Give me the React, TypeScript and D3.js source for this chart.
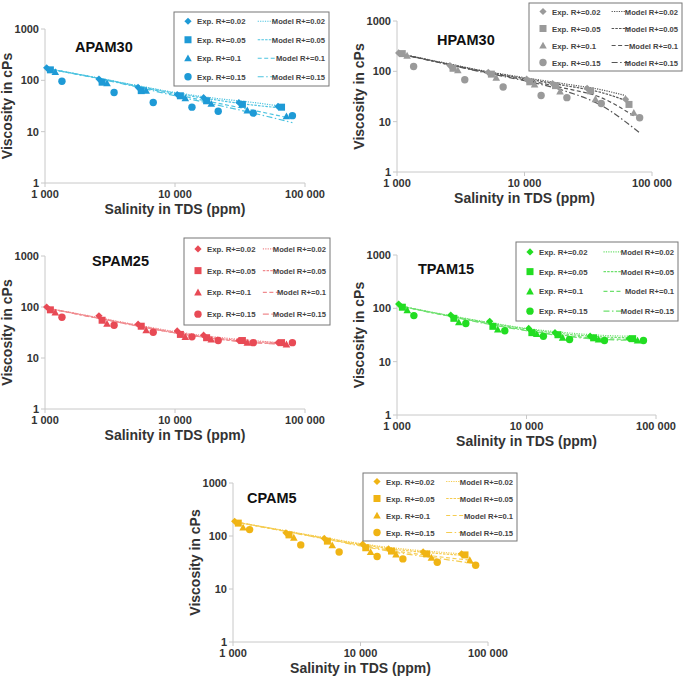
import React from "react";
import * as d3 from "d3";

// ---------- DATA ----------
const seriesKeys = ["0.02", "0.05", "0.1", "0.15"];
const xTickValues = [1000, 10000, 100000];
const xTickLabels = ["1 000", "10 000", "100 000"];
const yTickValues = [1, 10, 100, 1000];
const yTickLabels = ["1", "10", "100", "1000"];

// salinity (ppm) of experimental points per R+ series
const salExp02 = [1030, 2600, 5200, 10400, 16600, 31000, 62000];
const salExp05 = [1100, 2750, 5500, 11000, 17500, 33000, 66000];
const salExp10 = [1200, 3000, 6000, 12000, 19000, 36000, 72000];
const salExp15 = [1350, 3400, 6800, 13500, 21500, 40000, 80000];
// salinity of model curve nodes
const salMod02 = [1030, 2000, 5000, 10000, 20000, 40000, 62000];
const salMod05 = [1030, 2000, 5000, 10000, 20000, 40000, 66000];
const salMod10 = [1030, 2000, 5000, 10000, 20000, 40000, 72000];
const salMod15 = [1030, 2000, 5000, 10000, 20000, 40000, 80000];

// APAM30
const apamExp02 = [175, 106, 73, 53, 46, 37, 31];
const apamExp05 = [160, 92, 63, 50, 40, 34, 30];
const apamExp10 = [145, 88, 63, 45, 35, 26, 20];
const apamExp15 = [96, 58, 37, 30, 25, 23, 20.5];
const apamMod02 = [170, 125, 80, 58, 45, 37, 32];
const apamMod05 = [170, 125, 79, 56, 42, 33, 29];
const apamMod10 = [170, 124, 77, 53, 37, 26, 19];
const apamMod15 = [170, 123, 75, 50, 34, 23, 15];

// HPAM30
const hpamExp02 = [232, 130, 95, 70, 57, 46, 28];
const hpamExp05 = [225, 115, 88, 62, 52, 41, 22];
const hpamExp10 = [205, 105, 75, 55, 40, 28, 15];
const hpamExp15 = [125, 68, 49, 33, 30, 23, 12];
const hpamMod02 = [225, 160, 100, 75, 57, 43, 33];
const hpamMod05 = [225, 158, 98, 72, 53, 38, 25];
const hpamMod10 = [225, 156, 95, 68, 47, 30, 13];
const hpamMod15 = [225, 155, 93, 65, 42, 21, 6];

// SPAM25
const spamExp02 = [100, 67, 46, 34, 28, 22, 20];
const spamExp05 = [88, 55, 42, 29, 25, 22, 20];
const spamExp10 = [78, 47, 35, 26, 23, 20, 18.5];
const spamExp15 = [63, 44, 32, 26, 22, 20, 20];
const spamMod02 = [95, 70, 45, 33, 26, 22, 20];
const spamMod05 = [95, 69, 44, 32, 25, 21, 20];
const spamMod10 = [95, 68, 43, 31, 24, 20, 19];
const spamMod15 = [95, 68, 43, 31, 24, 20, 18.5];

// TPAM15
const tpamExp02 = [120, 75, 57, 42, 35, 30, 27];
const tpamExp05 = [105, 65, 46, 35, 32, 28, 27];
const tpamExp10 = [92, 55, 40, 33, 28, 26, 25];
const tpamExp15 = [73, 52, 38, 30, 26, 25, 25];
const tpamMod02 = [112, 82, 55, 42, 35, 31, 30];
const tpamMod05 = [112, 81, 54, 41, 33, 29, 28];
const tpamMod10 = [112, 80, 52, 39, 31, 27, 26];
const tpamMod15 = [112, 80, 51, 38, 30, 26, 25];

// CPAM5
const cpamExp02 = [190, 115, 90, 70, 57, 50, 46];
const cpamExp05 = [175, 105, 80, 60, 52, 46, 44];
const cpamExp10 = [145, 93, 67, 50, 45, 39, 35];
const cpamExp15 = [132, 68, 50, 41, 37, 32, 28];
const cpamMod02 = [185, 140, 95, 72, 58, 50, 46];
const cpamMod05 = [185, 139, 93, 70, 55, 47, 43];
const cpamMod10 = [185, 138, 91, 67, 51, 41, 35];
const cpamMod15 = [185, 137, 90, 65, 48, 38, 30];

const salExp = [salExp02, salExp05, salExp10, salExp15];
const salMod = [salMod02, salMod05, salMod10, salMod15];

const panels = [
  {
    name: "APAM30",
    exp: [apamExp02, apamExp05, apamExp10, apamExp15],
    mod: [apamMod02, apamMod05, apamMod10, apamMod15],
    color: "#1e9ad6",
    lineColor: "#4cc3e0",
    layout: { x0: 45, x1: 305, yTop: 29, yBot: 183, tx: 75, ty: 52, lg: [174, 12, 155, 74] },
  },
  {
    name: "HPAM30",
    exp: [hpamExp02, hpamExp05, hpamExp10, hpamExp15],
    mod: [hpamMod02, hpamMod05, hpamMod10, hpamMod15],
    color: "#9a9a9a",
    lineColor: "#555555",
    layout: { x0: 397, x1: 652, yTop: 21, yBot: 172, tx: 437, ty: 45, lg: [529, 3, 153, 68] },
  },
  {
    name: "SPAM25",
    exp: [spamExp02, spamExp05, spamExp10, spamExp15],
    mod: [spamMod02, spamMod05, spamMod10, spamMod15],
    color: "#e84a55",
    lineColor: "#f08a8e",
    layout: { x0: 45, x1: 305, yTop: 256, yBot: 409, tx: 92, ty: 266, lg: [184, 238, 146, 87] },
  },
  {
    name: "TPAM15",
    exp: [tpamExp02, tpamExp05, tpamExp10, tpamExp15],
    mod: [tpamMod02, tpamMod05, tpamMod10, tpamMod15],
    color: "#22dd22",
    lineColor: "#6ee06e",
    layout: { x0: 397, x1: 656, yTop: 255, yBot: 415, tx: 418, ty: 274, lg: [516, 242, 162, 79] },
  },
  {
    name: "CPAM5",
    exp: [cpamExp02, cpamExp05, cpamExp10, cpamExp15],
    mod: [cpamMod02, cpamMod05, cpamMod10, cpamMod15],
    color: "#f0b414",
    lineColor: "#f5cc50",
    layout: { x0: 233, x1: 488, yTop: 483, yBot: 642, tx: 247, ty: 503, lg: [363, 473, 154, 68] },
  },
];

const dashes = ["1.2,1.2", "2.5,1.2", "4,2.5", "6,2.5,1.5,2.5"];
const FONT = "'Liberation Sans', Arial, sans-serif";

function Marker({ kind, x, y, color }: { kind: number; x: number; y: number; color: string }) {
  if (kind === 0) {
    const s = 3.6;
    return <path d={`M${x},${y - s}L${x + s},${y}L${x},${y + s}L${x - s},${y}Z`} fill={color} />;
  }
  if (kind === 1) return <rect x={x - 3.5} y={y - 3.5} width={7} height={7} fill={color} />;
  if (kind === 2) {
    const s = 3.8;
    return <path d={`M${x},${y - s}L${x + s},${y + s * 0.8}L${x - s},${y + s * 0.8}Z`} fill={color} />;
  }
  return <circle cx={x} cy={y} r={3.7} fill={color} />;
}

function Panel({ p }: { p: (typeof panels)[number] }) {
  const L = p.layout;
  const x = d3.scaleLog().domain([1000, 100000]).range([L.x0, L.x1]);
  const y = d3.scaleLog().domain([1, 1000]).range([L.yBot, L.yTop]);
  const line = d3
    .line<[number, number]>()
    .x((d) => x(d[0]))
    .y((d) => y(d[1]))
    .curve(d3.curveMonotoneX);
  const [lx, ly, lw, lh] = L.lg;
  const axisColor = "#c8c8c8";
  return (
    <g>
      {/* axes */}
      <line x1={L.x0} x2={L.x0} y1={L.yTop} y2={L.yBot} stroke={axisColor} strokeWidth={1} />
      <line x1={L.x0} x2={L.x1} y1={L.yBot} y2={L.yBot} stroke={axisColor} strokeWidth={1} />
      {yTickValues.map((v, i) => (
        <g key={"yt" + i}>
          <line x1={L.x0 - 4} x2={L.x0} y1={y(v)} y2={y(v)} stroke={axisColor} />
          <text x={L.x0 - 6} y={y(v) + 4} textAnchor="end" fontSize={11} fontWeight="bold" fill="#333" fontFamily={FONT}>
            {yTickLabels[i]}
          </text>
        </g>
      ))}
      {xTickValues.map((v, i) => (
        <g key={"xt" + i}>
          <line x1={x(v)} x2={x(v)} y1={L.yBot} y2={L.yBot + 4} stroke={axisColor} />
          <text x={x(v)} y={L.yBot + 15} textAnchor="middle" fontSize={11} fontWeight="bold" fill="#333" fontFamily={FONT}>
            {xTickLabels[i]}
          </text>
        </g>
      ))}
      <text x={(L.x0 + L.x1) / 2} y={L.yBot + 31} textAnchor="middle" fontSize={14} fontWeight="bold" fill="#333" fontFamily={FONT}>
        Salinity in TDS (ppm)
      </text>
      <text
        transform={`translate(${L.x0 - 33},${(L.yTop + L.yBot) / 2}) rotate(-90)`}
        textAnchor="middle"
        fontSize={14}
        fontWeight="bold"
        fill="#333"
        fontFamily={FONT}
      >
        Viscosity in cPs
      </text>
      <text x={L.tx} y={L.ty} fontSize={14.5} fontWeight="bold" fill="#111" fontFamily={FONT}>
        {p.name}
      </text>
      {/* model lines */}
      {p.mod.map((vals, si) => (
        <path
          key={"m" + si}
          d={line(vals.map((v, j) => [salMod[si][j], v] as [number, number])) || ""}
          fill="none"
          stroke={p.lineColor}
          strokeWidth={1.2}
          strokeDasharray={dashes[si]}
        />
      ))}
      {/* experimental points */}
      {p.exp.map((vals, si) =>
        vals.map((v, j) => <Marker key={`e${si}-${j}`} kind={si} x={x(salExp[si][j])} y={y(v)} color={p.color} />)
      )}
      {/* legend */}
      <rect x={lx} y={ly} width={lw} height={lh} fill="white" stroke="#777" strokeWidth={1} />
      {seriesKeys.map((k, i) => {
        const ry = ly + (lh * (i + 0.5)) / 4;
        return (
          <g key={"lg" + i}>
            <Marker kind={i} x={lx + 14} y={ry} color={p.color} />
            <text x={lx + 23} y={ry + 3} fontSize={7.8} fontWeight="bold" fill="#444" fontFamily={FONT}>
              {`Exp. R+=${k}`}
            </text>
            <line
              x1={lx + lw * 0.54}
              x2={lx + lw * 0.655}
              y1={ry}
              y2={ry}
              stroke={p.lineColor}
              strokeWidth={1.2}
              strokeDasharray={dashes[i]}
            />
            <text x={lx + lw - 4} y={ry + 3} textAnchor="end" fontSize={7.6} fontWeight="bold" fill="#444" fontFamily={FONT}>
              {`Model R+=${k}`}
            </text>
          </g>
        );
      })}
    </g>
  );
}

export default function App() {
  return (
    <svg
      width={685}
      height={679}
      style={{ position: "absolute", left: 0, top: 0, background: "white" }}
      xmlns="http://www.w3.org/2000/svg"
    >
      <rect width={685} height={679} fill="white" />
      {panels.map((p) => (
        <Panel key={p.name} p={p} />
      ))}
    </svg>
  );
}
